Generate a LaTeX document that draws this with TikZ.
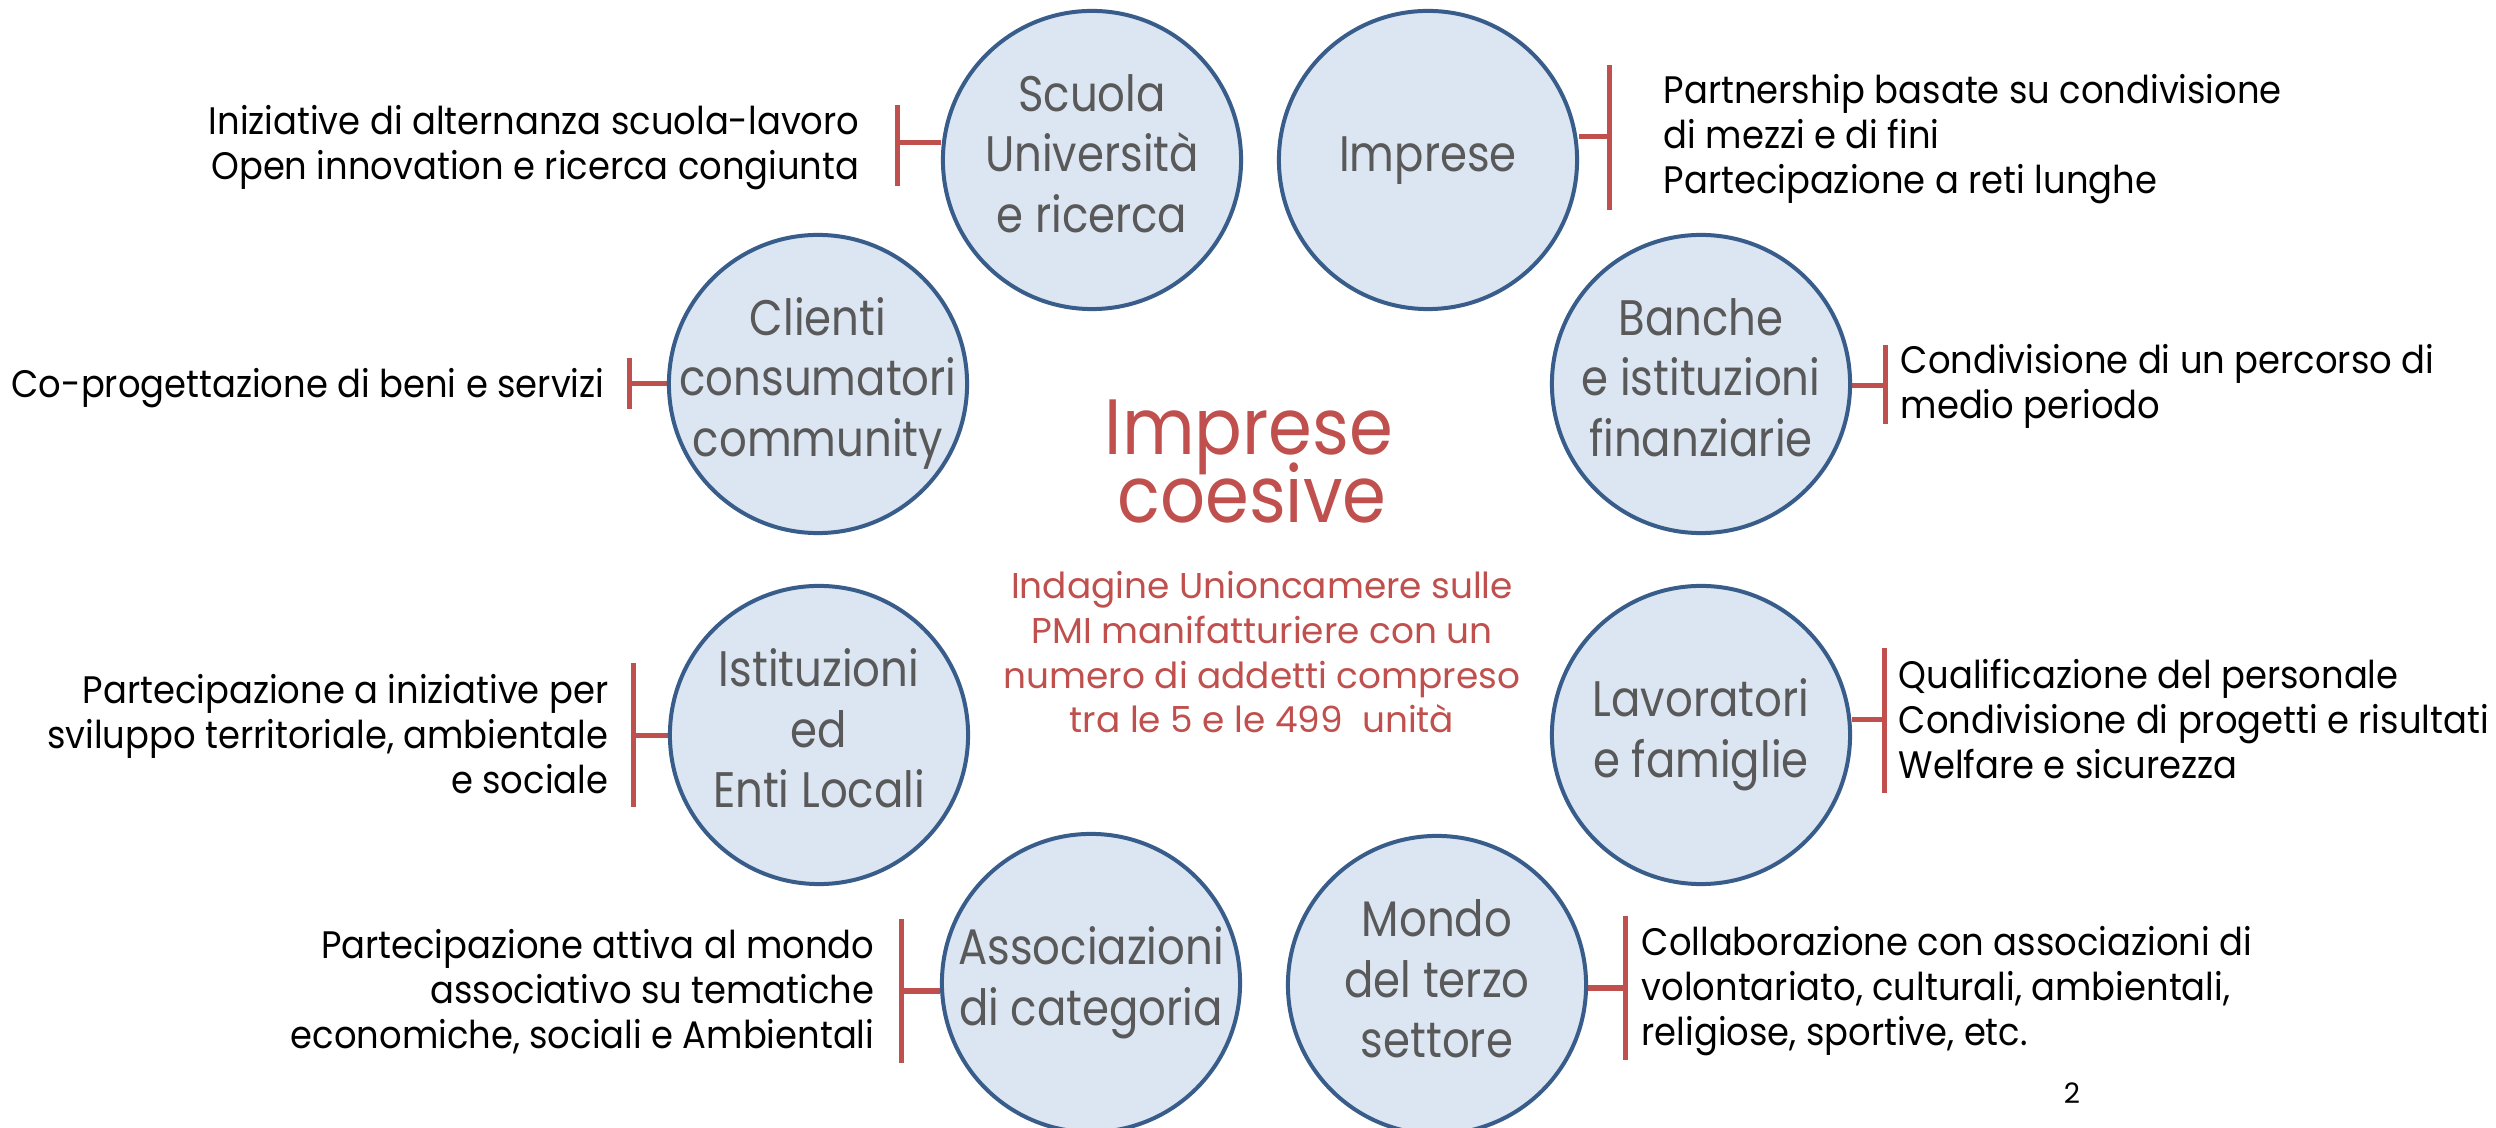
\documentclass[tikz,border=0pt]{standalone}
\usepackage{fontspec}
\setmainfont{Poppins}
\newfontfamily\notefont{Poppins}[FakeStretch=0.922]
\newfontfamily\hubfont{Poppins}[FakeStretch=0.87]
\newfontfamily\ttlfont{Poppins}[FakeStretch=0.9]
\usetikzlibrary{backgrounds}
\definecolor{cfill}{HTML}{DCE6F2}
\definecolor{cline}{HTML}{385D8A}
\definecolor{cred}{HTML}{C0504D}
\definecolor{cgray}{HTML}{595959}
\begin{document}
\begin{tikzpicture}[x=0.01cm, y=-0.01cm,
 hub/.style={circle, draw=cline, fill=cfill, line width=0.04cm, minimum size=2.98cm, inner sep=-1cm, align=center, text=cgray, font=\hubfont\fontsize{14.2}{17.07}\selectfont},
 noteL/.style={inner sep=0pt, anchor=north east, align=right, font=\notefont\fontsize{10.9}{12.8}\selectfont},
 noteR/.style={inner sep=0pt, anchor=north west, align=left, font=\notefont\fontsize{10.9}{12.8}\selectfont},
 brk/.style={draw=cred, line width=0.05cm},
 ttl/.style={inner sep=0pt, anchor=base, text=cred, font=\ttlfont\fontsize{22.3}{26}\selectfont},
 subt/.style={inner sep=0pt, anchor=north, align=center, text=cred, font=\fontsize{10.2}{12.7}\selectfont}]

\useasboundingbox (0,0) rectangle (2496,1128);

\node[hub] (scuola) at (1092,160) {\strut Scuola\\\strut Università\\\strut e ricerca};
\node[hub] (imprese) at (1428,160) {\strut Imprese};
\node[hub] (clienti) at (818,384) {\strut Clienti\\\strut consumatori\\\strut community};
\node[hub] (banche) at (1701,384) {\strut Banche\\\strut e istituzioni\\\strut finanziarie};
\node[hub] (istituz) at (819,735) {\strut Istituzioni\\\strut ed\\\strut Enti Locali};
\node[hub] (lavor) at (1701,735) {\strut Lavoratori\\\strut e famiglie};
\node[hub] (assoc) at (1091,983) {\strut Associazioni\\\strut di categoria};
\node[hub] (mondo) at (1437,985) {\strut Mondo\\\strut del terzo\\\strut settore};

\node[ttl] (t1) at (1249,455) {Imprese};
\node[ttl] (t2) at (1252,523) {coesive};
\node[subt] (sub) at (1262,567) {\strut Indagine Unioncamere sulle\\PMI manifatturiere con un\\numero di addetti compreso\\tra le 5 e le 499~ unità};

\node[noteL] (nScuola) at (860,102.5) {\strut Iniziative di alternanza scuola-lavoro\\Open innovation e ricerca congiunta};
\node[noteR] (nImprese) at (1663,71.5) {\strut Partnership basate su condivisione\\di mezzi e di fini\\Partecipazione a reti lunghe};
\node[noteL] (nClienti) at (605,365.5) {\strut Co-progettazione di beni e servizi};
\node[noteR] (nBanche) at (1900,341.5) {\strut Condivisione di un percorso di\\medio periodo};
\node[noteL] (nIstituz) at (609,671.5) {\strut Partecipazione a iniziative per\\sviluppo territoriale, ambientale\\e sociale};
\node[noteR] (nLavor) at (1898,656.5) {\strut Qualificazione del personale\\Condivisione di progetti e risultati\\Welfare e sicurezza};
\node[noteL] (nAssoc) at (875,926.5) {\strut Partecipazione attiva al mondo\\associativo su tematiche\\economiche, sociali e Ambientali};
\node[noteR] (nMondo) at (1641,923.5) {\strut Collaborazione con associazioni di\\volontariato, culturali, ambientali,\\religiose, sportive, etc.};
\node[inner sep=0pt, font=\fontsize{8}{9.6}\selectfont] (pg) at (2072,1093) {2};

\begin{scope}[on background layer]
 \fill[white] (0,0) rectangle (2496,1128);
 \coordinate (aT) at (897,105); \coordinate (aB) at (897,186); \coordinate (aM) at (897,143);
 \coordinate (bT) at (1609,65); \coordinate (bB) at (1609,210); \coordinate (bM) at (1609,137);
 \coordinate (cT) at (629,358); \coordinate (cB) at (629,409); \coordinate (cM) at (629,384);
 \coordinate (dT) at (1885,345); \coordinate (dB) at (1885,424); \coordinate (dM) at (1885,386);
 \coordinate (eT) at (633,663); \coordinate (eB) at (633,807); \coordinate (eM) at (633,736);
 \coordinate (fT) at (1884,648); \coordinate (fB) at (1884,793); \coordinate (fM) at (1884,720);
 \coordinate (gT) at (901,919); \coordinate (gB) at (901,1063); \coordinate (gM) at (901,991);
 \coordinate (hT) at (1625,916); \coordinate (hB) at (1625,1060); \coordinate (hM) at (1625,988);
 \draw[brk] (aT) -- (aB); \draw[brk] (aM) -- (aM -| scuola.west);
 \draw[brk] (bT) -- (bB); \draw[brk] (bM) -- (bM -| imprese.east);
 \draw[brk] (cT) -- (cB); \draw[brk] (cM) -- (cM -| clienti.west);
 \draw[brk] (dT) -- (dB); \draw[brk] (dM) -- (dM -| banche.east);
 \draw[brk] (eT) -- (eB); \draw[brk] (eM) -- (eM -| istituz.west);
 \draw[brk] (fT) -- (fB); \draw[brk] (fM) -- (fM -| lavor.east);
 \draw[brk] (gT) -- (gB); \draw[brk] (gM) -- (gM -| assoc.west);
 \draw[brk] (hT) -- (hB); \draw[brk] (hM) -- (hM -| mondo.east);
\end{scope}
\end{tikzpicture}
\end{document}
